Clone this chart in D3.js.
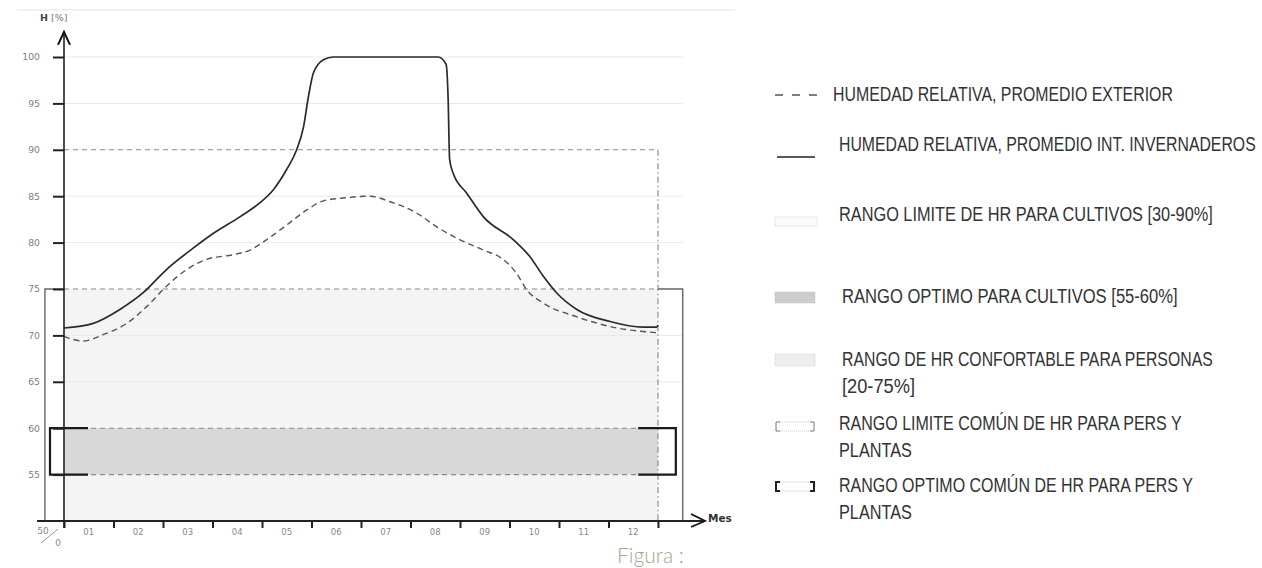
<!DOCTYPE html>
<html><head><meta charset="utf-8">
<script src="https://cdn.jsdelivr.net/npm/d3@7"></script>
<style>
html,body{margin:0;padding:0;background:#fff;}
svg{display:block;}
</style></head>
<body>
<svg id="chart" width="1262" height="568"></svg>
<script>
// ---------------- DATA ----------------
const monthLabels = ["01","02","03","04","05","06","07","08","09","10","11","12"];
const yTickValues = [55,60,65,70,75,80,85,90,95,100];
const gridValues = [65,70,80,85,95,100];

// Interior (greenhouse) mean relative humidity: month position, value
const interiorMonths = [0,0.59,1.13,1.6,2.07,2.61,3.02,3.56,3.96,4.23,4.5,4.7,4.84,4.94,5.04,5.24,5.44,7.56,7.72,7.76,7.79,7.86,8.14,8.47,9.08,9.41,9.68,9.95,10.36,11.03,11.7,11.97,12];
const interiorValues = [70.8,71.3,72.8,74.6,77.1,79.4,81.0,82.8,84.3,85.7,87.9,90.0,92.5,95.8,98.3,99.7,100,100,99.2,95.5,89.0,87.5,85.3,82.8,80.3,78.5,76.4,74.6,72.8,71.5,70.9,70.9,71.1];

// Exterior mean relative humidity
const exteriorMonths = [0,0.39,0.8,1.27,1.67,2.07,2.48,2.88,3.42,3.76,4.09,4.5,4.9,5.24,5.64,6.18,6.59,7.12,7.53,8.0,8.47,8.87,9.14,9.35,9.68,10.36,11.17,11.97];
const exteriorValues = [69.9,69.4,70.1,71.3,73.1,75.3,77.1,78.2,78.7,79.2,80.3,81.9,83.5,84.5,84.8,85.0,84.4,83.2,81.7,80.3,79.2,78.2,76.7,74.9,73.5,72.0,70.8,70.3];

// Ranges
const cropLimitTop = 90;
const comfortTop = 75;
const optimumRange = [55, 60];
const axisMin = 50;

const legendItems = [
  {lines:["HUMEDAD RELATIVA, PROMEDIO EXTERIOR"], sym:"dash"},
  {lines:["HUMEDAD RELATIVA, PROMEDIO INT. INVERNADEROS"], sym:"solid"},
  {lines:["RANGO LIMITE DE HR PARA CULTIVOS [30-90%]"], sym:"limit"},
  {lines:["RANGO OPTIMO PARA CULTIVOS  [55-60%]"], sym:"optimum"},
  {lines:["RANGO DE HR CONFORTABLE PARA PERSONAS","[20-75%]"], sym:"comfort"},
  {lines:["RANGO LIMITE COMÚN DE HR PARA PERS Y","PLANTAS"], sym:"bracketThin"},
  {lines:["RANGO OPTIMO COMÚN DE HR PARA PERS Y","PLANTAS"], sym:"bracketThick"}
];

// ---------------- LAYOUT ----------------
const svg = d3.select("#chart");
const x = d3.scaleLinear().domain([0,12]).range([64,658]);
const y = d3.scaleLinear().domain([50,100]).range([521,57]);
const tickFont = "'DejaVu Sans', sans-serif";

const ext = {axisStart:-0.545, axisEnd:12.95, leftFrame:-0.385, rightFrame:12.5, brL0:-0.283, brL1:0.485, brR0:11.6, brR1:12.36, yTop:102.7};

// top faint page line
svg.append("line").attr("x1",17).attr("x2",735).attr("y1",10).attr("y2",10)
  .attr("stroke","#ececec").attr("stroke-width",1.5);

// comfort area fill
svg.append("rect").attr("x",x(0)).attr("y",y(comfortTop))
  .attr("width",x(12)-x(0)).attr("height",y(axisMin)-y(comfortTop))
  .attr("fill","#f4f4f4");

// grid lines
svg.append("g").selectAll("line").data(gridValues).join("line")
  .attr("x1",x(0)).attr("x2",x(ext.rightFrame))
  .attr("y1",d=>y(d)).attr("y2",d=>y(d))
  .attr("stroke","#e8e8e8").attr("stroke-width",1);

// optimum band
svg.append("rect").attr("x",x(0)).attr("y",y(optimumRange[1]))
  .attr("width",x(12)-x(0)).attr("height",y(optimumRange[0])-y(optimumRange[1]))
  .attr("fill","#d8d8d8");

// dashed horizontal range lines
[cropLimitTop, comfortTop, optimumRange[1], optimumRange[0]].forEach(v=>{
  svg.append("line").attr("x1",x(0)).attr("x2",x(12))
    .attr("y1",y(v)).attr("y2",y(v))
    .attr("stroke","#8a8a8a").attr("stroke-width",1.1).attr("stroke-dasharray","5,4");
});
// dash-dot vertical at month 12
svg.append("line").attr("x1",x(12)).attr("x2",x(12))
  .attr("y1",y(cropLimitTop)).attr("y2",y(axisMin)+7)
  .attr("stroke","#8a8a8a").attr("stroke-width",1.2).attr("stroke-dasharray","6,3,1.5,3");

// comfort frames (left and right)
svg.append("path")
  .attr("d",`M${x(0)},${y(comfortTop)}H${x(ext.leftFrame)}V${y(axisMin)}`)
  .attr("fill","none").attr("stroke","#666").attr("stroke-width",1.4);
svg.append("path")
  .attr("d",`M${x(12)},${y(comfortTop)}H${x(ext.rightFrame)}V${y(axisMin)}`)
  .attr("fill","none").attr("stroke","#666").attr("stroke-width",1.4);

// optimum brackets
svg.append("rect").attr("x",x(ext.brL0)).attr("y",y(optimumRange[1]))
  .attr("width",x(0)-x(ext.brL0)).attr("height",y(optimumRange[0])-y(optimumRange[1])).attr("fill","#fff");
svg.append("rect").attr("x",x(12)+1).attr("y",y(optimumRange[1]))
  .attr("width",x(ext.brR1)-x(12)-1).attr("height",y(optimumRange[0])-y(optimumRange[1])).attr("fill","#fff");
svg.append("path")
  .attr("d",`M${x(ext.brL1)},${y(optimumRange[1])}H${x(ext.brL0)}V${y(optimumRange[0])}H${x(ext.brL1)}`)
  .attr("fill","none").attr("stroke","#1a1a1a").attr("stroke-width",2.2);
svg.append("path")
  .attr("d",`M${x(ext.brR0)},${y(optimumRange[1])}H${x(ext.brR1)}V${y(optimumRange[0])}H${x(ext.brR0)}`)
  .attr("fill","none").attr("stroke","#1a1a1a").attr("stroke-width",2.2);

// curves
const line = d3.line().x(d=>x(d[0])).y(d=>y(d[1])).curve(d3.curveMonotoneX);
svg.append("path").datum(d3.zip(exteriorMonths, exteriorValues))
  .attr("d",line).attr("fill","none").attr("stroke","#555").attr("stroke-width",1.4)
  .attr("stroke-dasharray","6,4");
svg.append("path").datum(d3.zip(interiorMonths, interiorValues))
  .attr("d",line).attr("fill","none").attr("stroke","#2a2a2a").attr("stroke-width",1.7);

// Y axis
const yAxis = d3.axisLeft(y).tickValues(yTickValues).tickSize(11).tickPadding(13);
const gy = svg.append("g").attr("transform",`translate(${x(0)},0)`).call(yAxis);
gy.select(".domain").remove();
gy.selectAll(".tick line").attr("stroke","#222").attr("stroke-width",2);
gy.selectAll(".tick text").attr("fill","#808080").attr("font-family",tickFont).attr("font-size",9.3);
svg.append("line").attr("x1",x(0)).attr("x2",x(0)).attr("y1",y(axisMin)+7).attr("y2",y(ext.yTop))
  .attr("stroke","#222").attr("stroke-width",1.6);
svg.append("path").attr("d",`M${x(0)-6},${y(ext.yTop)+13}L${x(0)},${y(ext.yTop)}L${x(0)+6},${y(ext.yTop)+13}`)
  .attr("fill","none").attr("stroke","#111").attr("stroke-width",2);
const ht = svg.append("text").attr("x",40).attr("y",21).attr("font-family",tickFont).attr("font-size",9.5).attr("fill","#444");
ht.append("tspan").attr("font-weight","bold").text("H");
ht.append("tspan").attr("fill","#777").text(" [%]");

// X axis
svg.append("line").attr("x1",x(ext.axisStart)).attr("x2",x(ext.axisEnd))
  .attr("y1",y(axisMin)).attr("y2",y(axisMin)).attr("stroke","#222").attr("stroke-width",1.8);
svg.append("path").attr("d",`M${x(ext.axisEnd)-14},${y(axisMin)-7}L${x(ext.axisEnd)},${y(axisMin)}L${x(ext.axisEnd)-14},${y(axisMin)+6}`)
  .attr("fill","none").attr("stroke","#111").attr("stroke-width",1.8);
const xAxis = d3.axisBottom(x).tickValues(d3.range(0,13)).tickSize(7).tickFormat("");
const gx = svg.append("g").attr("transform",`translate(0,${y(axisMin)})`).call(xAxis);
gx.select(".domain").remove();
gx.selectAll(".tick line").attr("stroke","#222").attr("stroke-width",2);
svg.append("g").selectAll("text").data(monthLabels).join("text")
  .attr("x",(d,i)=>x(i+0.5)).attr("y",y(axisMin)+14)
  .attr("text-anchor","middle").attr("font-family",tickFont)
  .attr("font-size",8.5).attr("fill","#888").text(d=>d);
svg.append("text").attr("x",x(ext.axisEnd)+3).attr("y",y(axisMin)+1)
  .attr("font-family",tickFont).attr("font-size",10.5).attr("font-weight","bold").attr("fill","#333").text("Mes");
// axis break labels
svg.append("text").attr("x",43).attr("y",y(axisMin)+13).attr("text-anchor","middle")
  .attr("font-family",tickFont).attr("font-size",9).attr("fill","#888").text("50");
svg.append("text").attr("x",58).attr("y",y(axisMin)+25).attr("text-anchor","middle")
  .attr("font-family",tickFont).attr("font-size",9).attr("fill","#888").text("0");
svg.append("line").attr("x1",41).attr("y1",543).attr("x2",58).attr("y2",529)
  .attr("stroke","#999").attr("stroke-width",1);

// Figura caption
svg.append("text").attr("x",617).attr("y",563).attr("font-family","Lato, sans-serif")
  .attr("font-weight",300).attr("font-size",21).attr("fill","#a3a98f").text("Figura :");

// ---------------- LEGEND ----------------
const legendY = [101,151,221,303,366,430,492];
const legendX = [833,839,839,842,842,839,839];
const targetWidths = [[340],[417],[374],[336],[371,73],[343,73],[354,73]];
const lg = svg.append("g");
legendItems.forEach((it,i)=>{
  it.lines.forEach((t,j)=>{
    const g = lg.append("g");
    const el = g.append("text").attr("x",0).attr("y",0)
      .attr("font-family","'Liberation Sans Narrow','Arial Narrow','Liberation Sans',sans-serif")
      .attr("font-size",21).attr("fill","#333")
      .text(t);
    const s = targetWidths[i][j] / el.node().getComputedTextLength();
    g.attr("transform",`translate(${legendX[i]},${legendY[i]+j*27}) scale(${s},1)`);
  });
});

// symbols
lg.append("line").attr("x1",775).attr("x2",818).attr("y1",95).attr("y2",95)
  .attr("stroke","#555").attr("stroke-width",1.6).attr("stroke-dasharray","8,9");
lg.append("line").attr("x1",777).attr("x2",815).attr("y1",157).attr("y2",157)
  .attr("stroke","#222").attr("stroke-width",1.4);
lg.append("rect").attr("x",775).attr("y",217).attr("width",42).attr("height",9)
  .attr("fill","#fbfbfb").attr("stroke","#ccc").attr("stroke-width",0.8).attr("stroke-dasharray","1,1");
lg.append("rect").attr("x",775).attr("y",292).attr("width",40).attr("height",11)
  .attr("fill","#cdcdcd").attr("stroke","#bbb").attr("stroke-width",0.8).attr("stroke-dasharray","1,1");
lg.append("rect").attr("x",775).attr("y",354).attr("width",40).attr("height",12)
  .attr("fill","#ededed").attr("stroke","#ccc").attr("stroke-width",0.8).attr("stroke-dasharray","1,1");
function bracket(y0,y1,w,col){
  lg.append("path").attr("d",`M780,${y0}H776V${y1}H780`).attr("fill","none").attr("stroke",col).attr("stroke-width",w);
  lg.append("path").attr("d",`M810,${y0}H814V${y1}H810`).attr("fill","none").attr("stroke",col).attr("stroke-width",w);
  lg.append("line").attr("x1",780).attr("x2",810).attr("y1",y0).attr("y2",y0).attr("stroke","#bbb").attr("stroke-width",0.8).attr("stroke-dasharray","1,1");
  lg.append("line").attr("x1",780).attr("x2",810).attr("y1",y1).attr("y2",y1).attr("stroke","#bbb").attr("stroke-width",0.8).attr("stroke-dasharray","1,1");
}
bracket(422,431,1,"#777");
bracket(482,491,2,"#222");
</script>
</body></html>
